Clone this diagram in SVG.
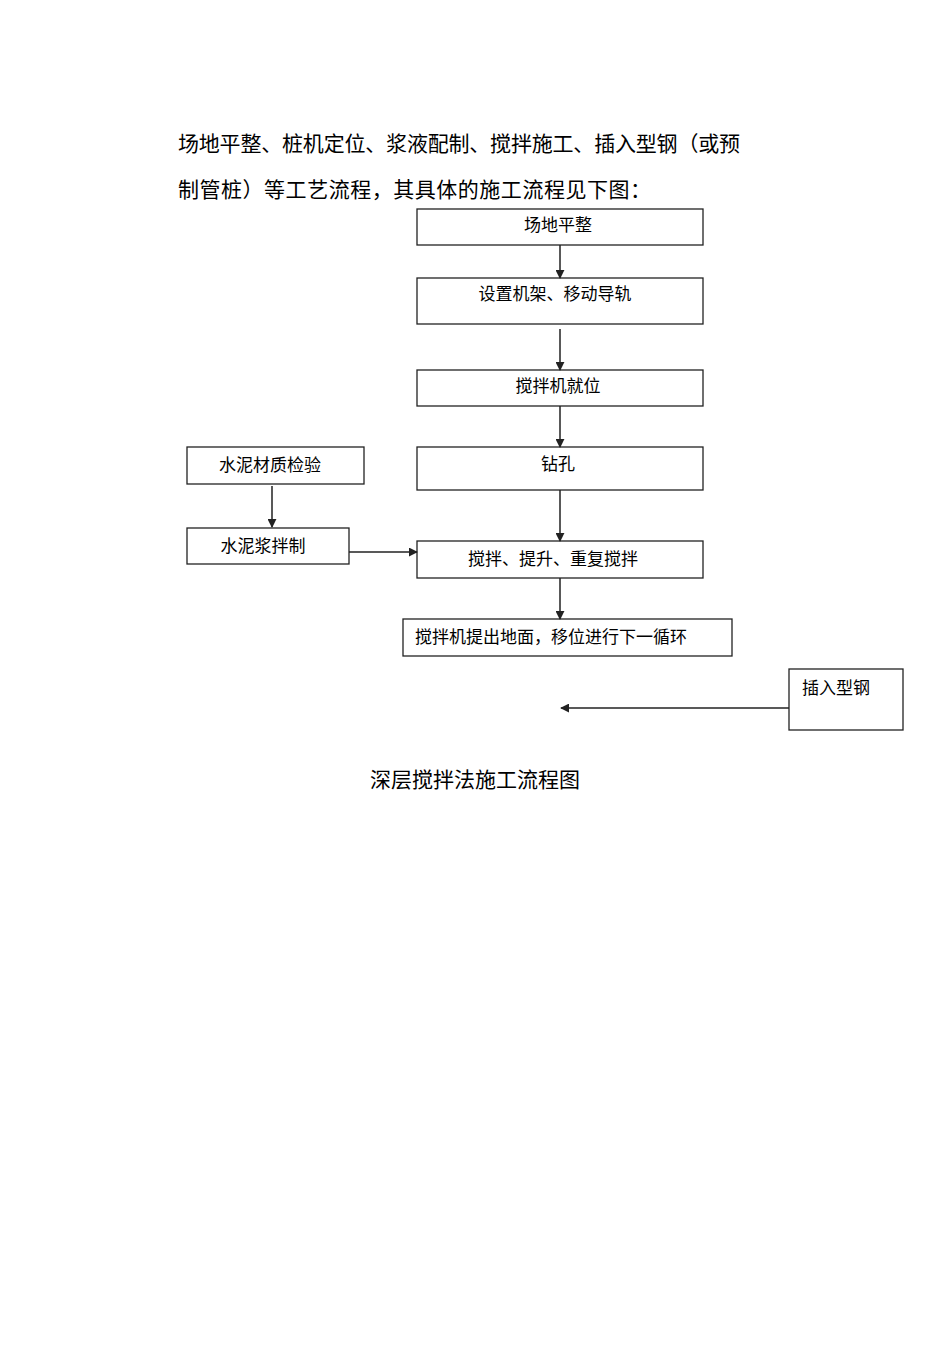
<svg xmlns="http://www.w3.org/2000/svg" width="950" height="1345" viewBox="0 0 950 1345">
<style>
text{font-family:"Liberation Sans","Noto Sans CJK SC",sans-serif;fill:#000}
.p{font-size:21px}
.n{font-size:17px}
.b{fill:#fff;stroke:#222;stroke-width:1.3}
.c{stroke:#222;stroke-width:1.5;fill:none}
</style>
<defs><marker id="a" viewBox="0 0 10 10" refX="9" refY="5" markerWidth="9" markerHeight="9" orient="auto" markerUnits="userSpaceOnUse"><path d="M0,0L10,5L0,10z" fill="#222"/></marker></defs>
<rect width="950" height="1345" fill="#fff"/>
<text class="p" x="178" y="151" textLength="562" lengthAdjust="spacing">场地平整、桩机定位、浆液配制、搅拌施工、插入型钢（或预</text>
<text class="p" x="178" y="197" textLength="473" lengthAdjust="spacing">制管桩）等工艺流程，其具体的施工流程见下图：</text>
<g id="n1"><rect class="b" x="417" y="209" width="286" height="36"/><text class="n" x="558" y="231" text-anchor="middle">场地平整</text></g>
<g id="n2"><rect class="b" x="417" y="278" width="286" height="46"/><text class="n" x="555" y="300" text-anchor="middle">设置机架、移动导轨</text></g>
<g id="n3"><rect class="b" x="417" y="370" width="286" height="36"/><text class="n" x="558" y="392" text-anchor="middle">搅拌机就位</text></g>
<g id="n4"><rect class="b" x="417" y="447" width="286" height="43"/><text class="n" x="558" y="470" text-anchor="middle">钻孔</text></g>
<g id="n5"><rect class="b" x="417" y="541" width="286" height="37"/><text class="n" x="553" y="565" text-anchor="middle">搅拌、提升、重复搅拌</text></g>
<g id="n6"><rect class="b" x="403" y="619" width="329" height="37"/><text class="n" x="415" y="643">搅拌机提出地面，移位进行下一循环</text></g>
<g id="n7"><rect class="b" x="187" y="447" width="177" height="37"/><text class="n" x="270" y="471" text-anchor="middle">水泥材质检验</text></g>
<g id="n8"><rect class="b" x="187" y="528" width="162" height="36"/><text class="n" x="263" y="552" text-anchor="middle">水泥浆拌制</text></g>
<g id="n9"><rect class="b" x="789" y="669" width="114" height="61"/><text class="n" x="802" y="694">插入型钢</text></g>
<g id="edges">
<line class="c" x1="560" y1="245" x2="560" y2="278" marker-end="url(#a)"/>
<line class="c" x1="560" y1="329" x2="560" y2="370" marker-end="url(#a)"/>
<line class="c" x1="560" y1="406" x2="560" y2="447" marker-end="url(#a)"/>
<line class="c" x1="560" y1="490" x2="560" y2="541" marker-end="url(#a)"/>
<line class="c" x1="560" y1="578" x2="560" y2="619" marker-end="url(#a)"/>
<line class="c" x1="272" y1="486" x2="272" y2="527" marker-end="url(#a)"/>
<line class="c" x1="349" y1="552" x2="417" y2="552" marker-end="url(#a)"/>
<line class="c" x1="789" y1="708" x2="561" y2="708" marker-end="url(#a)"/>
</g>
<text class="p" x="475" y="787" text-anchor="middle">深层搅拌法施工流程图</text>
</svg>
